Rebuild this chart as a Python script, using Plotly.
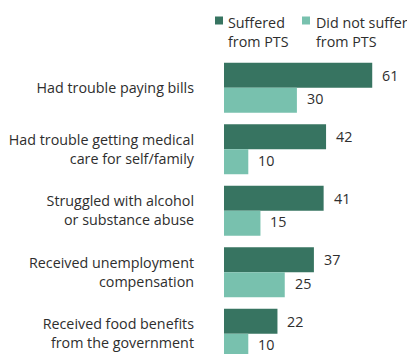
import plotly.graph_objects as go

categories = [
    "Had trouble paying bills",
    "Had trouble getting medical<br>care for self/family",
    "Struggled with alcohol<br>or substance abuse",
    "Received unemployment<br>compensation",
    "Received food benefits<br>from the government",
]
suffered = [61, 42, 41, 37, 22]
not_suffered = [30, 10, 15, 25, 10]
series_names = ["Suffered<br>from PTS", "Did not suffer<br>from PTS"]

DARK = "#377461"
LIGHT = "#78c1ae"
TEXT = "#2e2e2e"
FONT = "Open Sans, Arial, sans-serif"
FS = 14.3

W, H = 407, 354
L, R, T, B = 224, 0, 57, 0
PW, PH = W - L - R, H - T - B
PX_PER_UNIT = 2.43


def px(x):
    return (x - L) / PW


def py(y):
    return (H - y) / PH


fig = go.Figure()
fig.add_trace(go.Bar(y=categories, x=suffered, orientation="h", marker_color=DARK,
                     marker_line_width=0, name="Suffered from PTS", showlegend=False))
fig.add_trace(go.Bar(y=categories, x=not_suffered, orientation="h", marker_color=LIGHT,
                     marker_line_width=0, name="Did not suffer from PTS", showlegend=False))

# value labels
for vals, shift in ((suffered, 12.5), (not_suffered, -11)):
    for c, v in zip(categories, vals):
        fig.add_annotation(x=v, y=c, xref="x", yref="y", text=str(v), showarrow=False,
                           xanchor="left", yanchor="middle", xshift=9, yshift=shift,
                           borderpad=0,
                           font=dict(family=FONT, size=FS, color=TEXT))

# legend
legend_items = [(215, 225.5, DARK, series_names[0]), (302, 313.5, LIGHT, series_names[1])]
for sq_x, tx_x, col, name in legend_items:
    fig.add_shape(type="rect", xref="paper", yref="paper",
                  x0=px(sq_x), x1=px(sq_x + 8), y0=py(24.5), y1=py(16.5),
                  fillcolor=col, line_width=0)
    fig.add_annotation(x=px(tx_x), y=py(11), xref="paper", yref="paper", text=name,
                       showarrow=False, xanchor="left", yanchor="top", align="left",
                       font=dict(family=FONT, size=FS, color=TEXT))

top = -0.5
bottom = top + PH / 61.5
fig.update_layout(
    width=W, height=H,
    margin=dict(l=L, r=R, t=T, b=B, pad=0),
    paper_bgcolor="white", plot_bgcolor="white",
    barmode="group", bargap=0.187, bargroupgap=0,
    font=dict(family=FONT, size=FS, color=TEXT),
    showlegend=False,
    xaxis=dict(range=[0, PW / PX_PER_UNIT], visible=False, fixedrange=True),
    yaxis=dict(type="category", categoryorder="array", categoryarray=categories,
               range=[bottom, top], showgrid=False, zeroline=False, showline=False,
               ticks="", ticklabelstandoff=29, tickfont=dict(family=FONT, size=FS, color=TEXT)),
)

fig.write_html("out.html")
